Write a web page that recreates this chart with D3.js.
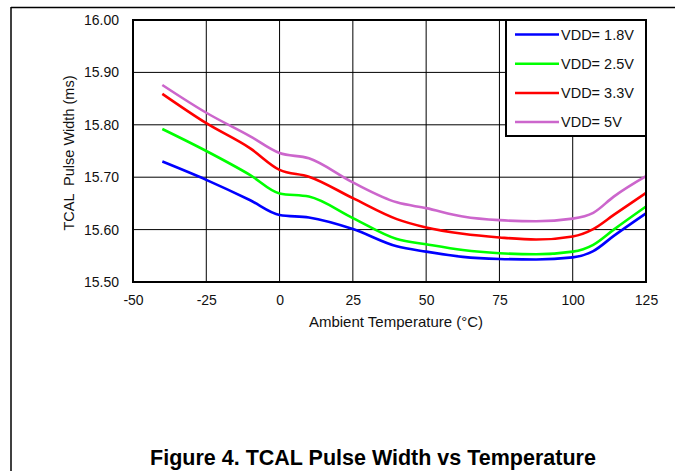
<!DOCTYPE html>
<html>
<head>
<meta charset="utf-8">
<script src="https://cdn.jsdelivr.net/npm/d3@7"></script>
<style>
  html, body { margin: 0; padding: 0; background: #fff; }
  svg { display: block; font-family: "Liberation Sans", Arial, Helvetica, sans-serif; }
</style>
</head>
<body>
<div id="chart"></div>
<script>
// ambient temperature (°C) at which the curves were read
const temps = [-40, -25, -10, 0, 10, 25, 40, 50, 62.5, 75, 87.5, 100, 107, 114, 125];

// TCAL pulse width (ms) per supply voltage
const vdd18 = [15.730, 15.695, 15.656, 15.628, 15.623, 15.601, 15.568, 15.558, 15.548, 15.544, 15.543, 15.547, 15.559, 15.588, 15.631];
const vdd25 = [15.792, 15.750, 15.704, 15.669, 15.663, 15.622, 15.582, 15.572, 15.561, 15.555, 15.553, 15.558, 15.571, 15.600, 15.644];
const vdd33 = [15.859, 15.803, 15.755, 15.714, 15.701, 15.660, 15.620, 15.604, 15.592, 15.585, 15.581, 15.587, 15.601, 15.628, 15.670];
const vdd50 = [15.876, 15.823, 15.778, 15.746, 15.736, 15.690, 15.652, 15.641, 15.625, 15.618, 15.616, 15.621, 15.632, 15.663, 15.702];

const seriesNames = ["VDD= 1.8V", "VDD= 2.5V", "VDD= 3.3V", "VDD= 5V"];
const seriesColors = ["#0000ff", "#00ff00", "#ff0000", "#cc66cc"];
const seriesValues = [vdd18, vdd25, vdd33, vdd50];

const xTicks = [-50, -25, 0, 25, 50, 75, 100, 125];
const xTickLabels = ["-50", "-25", "0", "25", "50", "75", "100", "125"];
const yTicks = [15.5, 15.6, 15.7, 15.8, 15.9, 16.0];
const yTickLabels = ["15.50", "15.60", "15.70", "15.80", "15.90", "16.00"];

const W = 675, H = 471;
const margin = { top: 20, right: 29, bottom: 189, left: 133 };
const width = W - margin.left - margin.right;
const height = H - margin.top - margin.bottom;

const svg = d3.select("#chart").append("svg")
  .attr("width", W)
  .attr("height", H);

// page frame
svg.append("line")
  .attr("x1", 11).attr("x2", W).attr("y1", 7.5).attr("y2", 7.5)
  .attr("stroke", "#000").attr("stroke-width", 1.5);
svg.append("line")
  .attr("x1", 11).attr("x2", 11).attr("y1", 7).attr("y2", H)
  .attr("stroke", "#000").attr("stroke-width", 1.5);

const g = svg.append("g")
  .attr("transform", "translate(" + margin.left + "," + margin.top + ")");

const x = d3.scaleLinear().domain([-50, 125]).range([0, width]);
const y = d3.scaleLinear().domain([15.5, 16.0]).range([height, 0]);

// grid
g.append("g")
  .attr("class", "grid-x")
  .selectAll("line")
  .data(xTicks)
  .enter().append("line")
  .attr("x1", d => x(d)).attr("x2", d => x(d))
  .attr("y1", 0).attr("y2", height)
  .attr("stroke", "#000").attr("stroke-width", 1);

g.append("g")
  .attr("class", "grid-y")
  .selectAll("line")
  .data(yTicks)
  .enter().append("line")
  .attr("x1", 0).attr("x2", width)
  .attr("y1", d => y(d)).attr("y2", d => y(d))
  .attr("stroke", "#000").attr("stroke-width", 1);

// axes (labels only, grid drawn above)
const xAxis = g.append("g")
  .attr("transform", "translate(0," + height + ")")
  .call(d3.axisBottom(x).tickValues(xTicks).tickSize(0).tickPadding(13)
    .tickFormat((d, i) => xTickLabels[i]));
const yAxis = g.append("g")
  .call(d3.axisLeft(y).tickValues(yTicks).tickSize(0).tickPadding(14)
    .tickFormat((d, i) => yTickLabels[i]));

[xAxis, yAxis].forEach(a => {
  a.select(".domain").remove();
  a.selectAll("text")
    .attr("fill", "#111")
    .style("font-size", "14px")
    .style("font-family", "\"Liberation Sans\", Arial, sans-serif");
});

// curves
const line = d3.line()
  .x((d, i) => x(temps[i]))
  .y(d => y(d))
  .curve(d3.curveMonotoneX);

g.append("g")
  .selectAll("path")
  .data(seriesValues)
  .enter().append("path")
  .attr("d", d => line(d))
  .attr("fill", "none")
  .attr("stroke", (d, i) => seriesColors[i])
  .attr("stroke-width", 2.6)
  .attr("stroke-linejoin", "round");

// plot border
g.append("rect")
  .attr("width", width).attr("height", height)
  .attr("fill", "none")
  .attr("stroke", "#000").attr("stroke-width", 2);

// legend
const legW = 140, legH = 116;
const legend = g.append("g")
  .attr("transform", "translate(" + (width - legW) + ",0)");
legend.append("rect")
  .attr("width", legW).attr("height", legH)
  .attr("fill", "#fff")
  .attr("stroke", "#000").attr("stroke-width", 2);

const row = legend.selectAll("g.row")
  .data(seriesNames)
  .enter().append("g")
  .attr("class", "row")
  .attr("transform", (d, i) => "translate(0," + (14.5 + i * 29.2) + ")");
row.append("line")
  .attr("x1", 9).attr("x2", 53)
  .attr("stroke", (d, i) => seriesColors[i])
  .attr("stroke-width", 2.5);
row.append("text")
  .attr("x", 55).attr("dy", "0.36em")
  .attr("fill", "#111")
  .style("font-size", "14.5px")
  .text(d => d);

// axis titles
svg.append("text")
  .attr("x", 396).attr("y", 327)
  .attr("text-anchor", "middle")
  .attr("fill", "#111")
  .style("font-size", "15px")
  .text("Ambient Temperature (°C)");

svg.append("text")
  .attr("transform", "translate(74,153) rotate(-90)")
  .attr("text-anchor", "middle")
  .attr("fill", "#111")
  .style("font-size", "14.5px")
  .style("white-space", "pre")
  .text("TCAL  Pulse Width (ms)");

// caption
svg.append("text")
  .attr("x", 373).attr("y", 465)
  .attr("text-anchor", "middle")
  .attr("fill", "#000")
  .style("font-size", "21.5px")
  .style("font-weight", "bold")
  .text("Figure 4. TCAL Pulse Width vs Temperature");
</script>
</body>
</html>
